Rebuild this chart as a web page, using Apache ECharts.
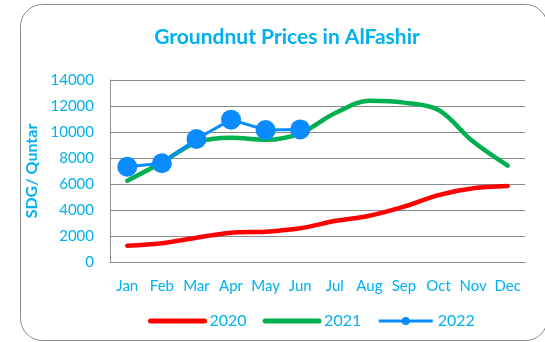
<!DOCTYPE html>
<html>
<head>
<meta charset="utf-8">
<script src="https://cdn.jsdelivr.net/npm/echarts@6/dist/echarts.min.js"></script>
<style>
  html, body { margin: 0; padding: 0; background: #ffffff; }
  #chart { width: 545px; height: 342px; }
</style>
</head>
<body>
<div id="chart"></div>
<script>
// Monthly groundnut prices (SDG per quntar) in AlFashir
const months = ['Jan', 'Feb', 'Mar', 'Apr', 'May', 'Jun', 'Jul', 'Aug', 'Sep', 'Oct', 'Nov', 'Dec'];
const prices2020 = [1250, 1450, 1870, 2250, 2330, 2590, 3150, 3560, 4260, 5150, 5670, 5850];
const prices2021 = [6250, 7650, 9200, 9560, 9400, 9900, 11440, 12400, 12260, 11690, 9260, 7410];
const prices2022 = [7330, 7600, 9460, 10950, 10150, 10200];
const yTicks = [0, 2000, 4000, 6000, 8000, 10000, 12000, 14000];

const accent = '#00B0F0';
const fontFamily = 'Lato, "Open Sans", sans-serif';

const chart = echarts.init(document.getElementById('chart'));
chart.setOption({
  animation: false,
  textStyle: { fontFamily: fontFamily },
  graphic: [{
    type: 'rect',
    shape: { x: 20.5, y: 4.5, width: 527, height: 336, r: 22 },
    style: { fill: 'none', stroke: '#8a8a8a', lineWidth: 1 },
    z: -1
  }],
  title: {
    text: 'Groundnut Prices in AlFashir',
    left: 282,
    textAlign: 'center',
    top: 22,
    textStyle: { color: accent, fontSize: 21, fontWeight: 'bold', fontFamily: fontFamily }
  },
  legend: {
    bottom: 8,
    left: 143,
    itemWidth: 54,
    itemHeight: 10,
    itemGap: 16,
    textStyle: { color: accent, fontSize: 16, fontFamily: fontFamily },
    data: [
      { name: '2020', itemStyle: { opacity: 0 }, lineStyle: { width: 5, cap: 'round' } },
      { name: '2021', itemStyle: { opacity: 0 }, lineStyle: { width: 5, cap: 'round' } },
      { name: '2022', lineStyle: { width: 3 } }
    ]
  },
  grid: { left: 110, right: 20, top: 80, bottom: 80 },
  xAxis: {
    type: 'category',
    data: months,
    boundaryGap: true,
    axisLine: { show: true, lineStyle: { color: '#8c8c8c', width: 1 } },
    axisTick: { show: false },
    axisLabel: { color: accent, fontSize: 15, margin: 17, interval: 0, fontFamily: fontFamily }
  },
  yAxis: {
    type: 'value',
    min: yTicks[0],
    max: yTicks[yTicks.length - 1],
    interval: yTicks[1] - yTicks[0],
    name: 'SDG/ Quntar',
    nameLocation: 'middle',
    nameGap: 66,
    nameRotate: 90,
    nameTextStyle: { color: accent, fontSize: 16, fontWeight: 'bold', fontFamily: fontFamily },
    axisLine: { show: true, lineStyle: { color: '#8c8c8c', width: 1 } },
    axisTick: { show: false },
    axisLabel: {
      color: accent, fontSize: 15, margin: 16, fontFamily: fontFamily,
      formatter: function (v) { return String(v); }
    },
    splitLine: { show: true, lineStyle: { color: '#8c8c8c', width: 1 } }
  },
  series: [
    {
      name: '2020',
      type: 'line',
      data: prices2020,
      smooth: 0.35,
      symbol: 'none',
      lineStyle: { color: '#FF0000', width: 4.5, cap: 'round' },
      itemStyle: { color: '#FF0000' }
    },
    {
      name: '2021',
      type: 'line',
      data: prices2021,
      smooth: 0.35,
      symbol: 'none',
      lineStyle: { color: '#00B050', width: 4.5, cap: 'round' },
      itemStyle: { color: '#00B050' }
    },
    {
      name: '2022',
      type: 'line',
      data: prices2022,
      symbol: 'circle',
      symbolSize: 20,
      lineStyle: { color: '#0A8CFF', width: 3 },
      itemStyle: { color: '#0A8CFF' },
      z: 3
    }
  ]
});
</script>
</body>
</html>
